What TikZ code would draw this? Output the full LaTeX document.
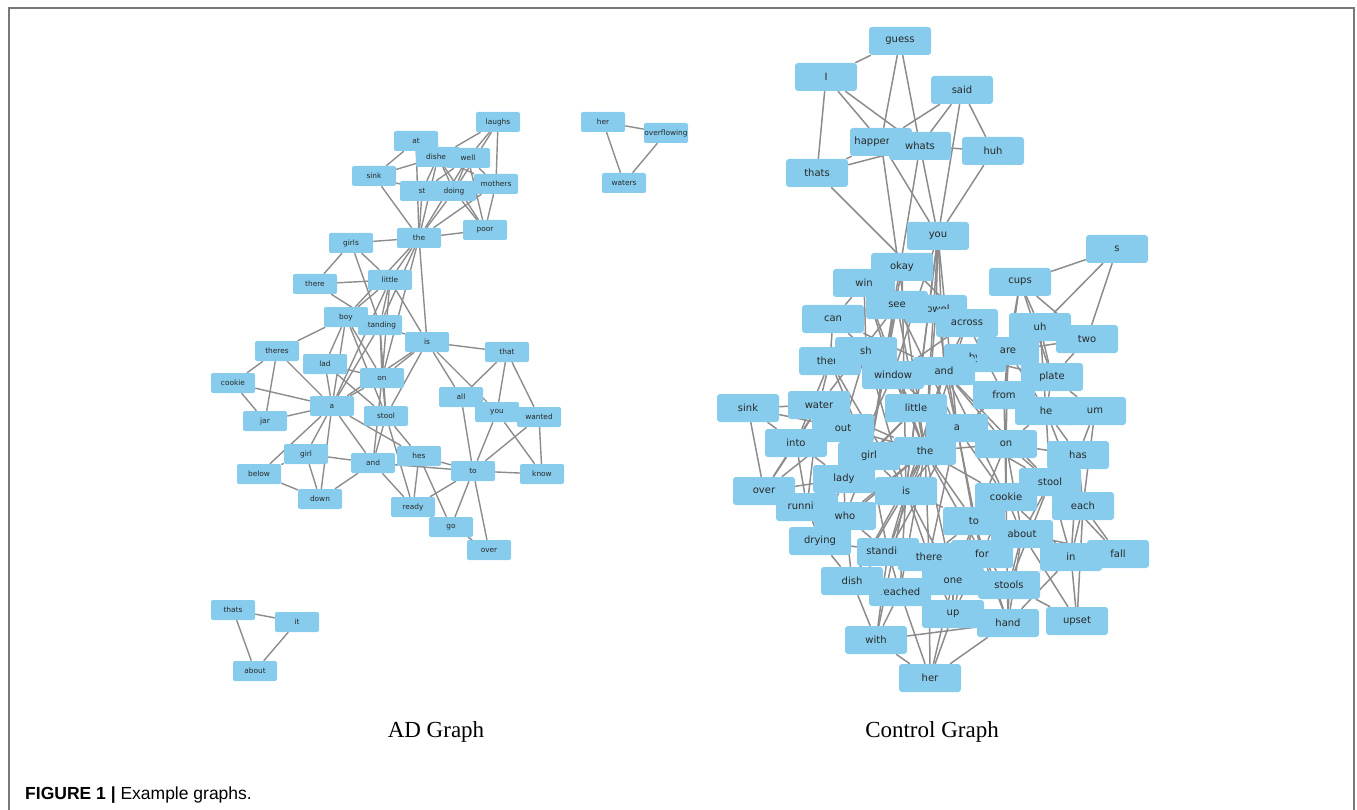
\documentclass[tikz,border=0pt]{standalone}
\usepackage{fontspec}
\setmainfont{Liberation Serif}
\newfontfamily\vera{DejaVu Sans}
\newfontfamily\helv{Liberation Sans}
\definecolor{nodeblue}{RGB}{135,204,236}
\definecolor{edgegray}{RGB}{140,140,140}
\definecolor{framegray}{RGB}{120,120,120}
\definecolor{labeltext}{RGB}{40,40,40}
\pgfdeclarelayer{background}
\pgfsetlayers{background,main}
\tikzset{
  adnode/.style={rectangle, rounded corners=2pt, fill=nodeblue, minimum width=44pt, minimum height=20pt, inner sep=0pt, text=labeltext, font=\vera\fontsize{7.4}{8}\selectfont},
  ctnode/.style={rectangle, rounded corners=3pt, fill=nodeblue, minimum width=62pt, minimum height=28pt, inner sep=0pt, text=labeltext, font=\vera\fontsize{10}{11}\selectfont},
  adedge/.style={draw=edgegray, line width=1.4pt},
  ctedge/.style={draw=edgegray, line width=1.5pt},
  graphlabel/.style={anchor=base, font=\fontsize{23}{26}\selectfont},
}
\begin{document}
\begin{tikzpicture}[x=1pt,y=-1pt]
\useasboundingbox (0,0) rectangle (1357,810);
\draw[framegray, line width=1.5pt] (9,812) -- (9,8) -- (1354,8) -- (1354,812);

% ---------------- AD graph nodes ----------------
\node[adnode] (alaughs) at (498,122) {laughs};
\node[adnode] (aat) at (416,141) {at};
\node[adnode] (adishe) at (438,157) {dishes};
\node[adnode] (awell) at (468,158) {well};
\node[adnode] (asink) at (374,176) {sink};
\node[adnode] (aloing) at (454,191) {doing};
\node[adnode] (ast) at (422,191) {st};
\node[adnode] (amothers) at (496,184) {mothers};
\node[adnode] (apoor) at (485,230) {poor};
\node[adnode] (athe) at (419,238) {the};
\node[adnode] (agirls) at (351,243) {girls};
\node[adnode] (athere) at (315,284) {there};
\node[adnode] (alittle) at (390,280) {little};
\node[adnode] (atanding) at (380,325) {standing};
\node[adnode] (aboy) at (346,317) {boy};
\node[adnode] (ais) at (427,342) {is};
\node[adnode] (atheres) at (277,351) {theres};
\node[adnode] (alad) at (325,364) {lad};
\node[adnode] (athat) at (507,352) {that};
\node[adnode] (acookie) at (233,383) {cookie};
\node[adnode] (aon) at (382,378) {on};
\node[adnode] (aall) at (461,397) {all};
\node[adnode] (ayou) at (497,412) {you};
\node[adnode] (awanted) at (539,417) {wanted};
\node[adnode] (aa) at (332,406) {a};
\node[adnode] (ajar) at (265,421) {jar};
\node[adnode] (astool) at (386,416) {stool};
\node[adnode] (agirl) at (306,454) {girl};
\node[adnode] (ahes) at (419,456) {hes};
\node[adnode] (aand) at (373,463) {and};
\node[adnode] (ato) at (473,471) {to};
\node[adnode] (abelow) at (259,474) {below};
\node[adnode] (aknow) at (542,474) {know};
\node[adnode] (adown) at (320,499) {down};
\node[adnode] (aready) at (413,507) {ready};
\node[adnode] (ago) at (451,527) {go};
\node[adnode] (aover) at (489,550) {over};
\node[adnode] (aher) at (603,122) {her};
\node[adnode] (aoverflowing) at (666,133) {overflowing};
\node[adnode] (awaters) at (624,183) {waters};
\node[adnode] (athats) at (233,610) {thats};
\node[adnode] (ait) at (297,622) {it};
\node[adnode] (aabout) at (255,671) {about};

% ---------------- Control graph nodes ----------------
\node[ctnode] (cguess) at (900,41) {guess};
\node[ctnode] (cI) at (826,77) {I};
\node[ctnode] (csaid) at (962,90) {said};
\node[ctnode] (chappen) at (881,142) {happening};
\node[ctnode] (cwhats) at (920,146) {whats};
\node[ctnode] (chuh) at (993,151) {huh};
\node[ctnode] (cthats) at (817,173) {thats};
\node[ctnode] (cyou) at (938,236) {you};
\node[ctnode] (cs) at (1117,249) {s};
\node[ctnode] (ccups) at (1020,282) {cups};
\node[ctnode] (cwin) at (864,283) {win};
\node[ctnode] (cokay) at (902,267) {okay};
\node[ctnode] (ctow) at (936,309) {towel};
\node[ctnode] (csee) at (897,305) {see};
\node[ctnode] (ccan) at (833,319) {can};
\node[ctnode] (cacross) at (967,323) {across};
\node[ctnode] (cuh) at (1040,327) {uh};
\node[ctnode] (ctwo) at (1087,339) {two};
\node[ctnode] (cther) at (830,361) {there};
\node[ctnode] (csh) at (866,351) {sh};
\node[ctnode] (cby) at (975,358) {by};
\node[ctnode] (cand) at (944,371) {and};
\node[ctnode] (care) at (1008,351) {are};
\node[ctnode] (cwindow) at (893,375) {window};
\node[ctnode] (cplate) at (1052,377) {plate};
\node[ctnode] (cfrom) at (1004,395) {from};
\node[ctnode] (che) at (1046,411) {he};
\node[ctnode] (cum) at (1095,411) {um};
\node[ctnode] (csink) at (748,408) {sink};
\node[ctnode] (cwater) at (819,405) {water};
\node[ctnode] (cinto) at (796,443) {into};
\node[ctnode] (cout) at (843,428) {out};
\node[ctnode] (clittle) at (916,408) {little};
\node[ctnode] (ca) at (957,428) {a};
\node[ctnode] (con) at (1006,444) {on};
\node[ctnode] (cgirl) at (869,456) {girl};
\node[ctnode] (cthe) at (925,451) {the};
\node[ctnode] (chas) at (1078,455) {has};
\node[ctnode] (clady) at (844,479) {lady};
\node[ctnode] (cstool) at (1050,482) {stool};
\node[ctnode] (cover) at (764,491) {over};
\node[ctnode] (cis) at (906,491) {is};
\node[ctnode] (cto) at (974,521) {to};
\node[ctnode] (ccookie) at (1006,497) {cookie};
\node[ctnode] (ceach) at (1083,506) {each};
\node[ctnode] (crunni) at (807,507) {running};
\node[ctnode] (cwho) at (845,516) {who};
\node[ctnode] (cdrying) at (820,541) {drying};
\node[ctnode] (cabout) at (1022,534) {about};
\node[ctnode] (cstandi) at (888,552) {standing};
\node[ctnode] (cthere) at (929,557) {there};
\node[ctnode] (cfor) at (982,554) {for};
\node[ctnode] (cin) at (1071,557) {in};
\node[ctnode] (cfall) at (1118,554) {fall};
\node[ctnode] (creached) at (900,592) {reached};
\node[ctnode] (cdish) at (852,581) {dish};
\node[ctnode] (cone) at (953,581) {one};
\node[ctnode] (cstools) at (1009,585) {stools};
\node[ctnode] (cup) at (953,614) {up};
\node[ctnode] (chand) at (1008,623) {hand};
\node[ctnode] (cupset) at (1077,621) {upset};
\node[ctnode] (cwith) at (876,640) {with};
\node[ctnode] (cher) at (930,678) {her};

% ---------------- edges ----------------
\begin{pgfonlayer}{background}
\foreach \p/\q in {alaughs/adishe, alaughs/aloing, alaughs/amothers, alaughs/awell,
  aat/asink, aat/athe, aat/adishe, asink/adishe, asink/athe, asink/ast,
  adishe/athe, adishe/aloing, adishe/amothers, adishe/apoor, adishe/ast,
  awell/athe, awell/aloing, awell/apoor, awell/ast, awell/amothers,
  ast/athe, aloing/athe, amothers/athe, amothers/apoor, aloing/apoor,
  athe/apoor, athe/agirls, athe/alittle, athe/ais, athe/aboy, athe/atanding, athe/aon,
  agirls/athere, agirls/alittle, agirls/atanding, athere/alittle, athere/atanding,
  alittle/aboy, alittle/atanding, alittle/aon, alittle/ais, alittle/aa,
  aboy/atheres, aboy/aa, aboy/alad, aboy/aon, aboy/astool,
  atanding/aa, atanding/aon, atanding/ais, atanding/astool,
  ais/aon, ais/aa, ais/athat, ais/aall, ais/ayou, ais/astool,
  athat/aall, athat/ayou, athat/awanted,
  atheres/acookie, atheres/ajar, atheres/aa, alad/aa, alad/astool, alad/aon,
  acookie/aa, acookie/ajar, ajar/aa, aon/aa, aon/astool, aon/aand,
  astool/aand, astool/aready, astool/ahes,
  aa/agirl, aa/abelow, aa/adown, aa/aand, aa/ahes,
  aall/ato, ayou/ato, ayou/aknow, awanted/ato, awanted/aknow,
  agirl/abelow, agirl/adown, agirl/aand, abelow/adown,
  aand/adown, aand/ato, aand/aready, ahes/aready, ahes/ago, ahes/ato,
  ato/aready, ato/ago, ato/aover, ato/aknow, ago/aover,
  aher/aoverflowing, aher/awaters, aoverflowing/awaters,
  athats/ait, athats/aabout, ait/aabout}
  \draw[adedge] (\p) -- (\q);
\foreach \p/\q in {cguess/cI, cguess/chappen, cguess/cwhats,
  cI/cthats, cI/chappen, cI/cwhats,
  csaid/chappen, csaid/cwhats, csaid/chuh, csaid/cyou,
  cthats/chappen, cthats/cwhats, cthats/cacross,
  chappen/cyou, chappen/cthe, cwhats/cyou, cwhats/cgirl, cwhats/chuh, chuh/cyou,
  cyou/cand, cyou/cwindow, cyou/cthe, cyou/ca, cyou/clittle, cyou/cis, cyou/ctow,
  cs/ccups, cs/cuh, cs/ctwo,
  ccups/cuh, ccups/ctwo, ccups/care, ccups/cplate, ccups/cfrom,
  cuh/ctwo, cuh/cplate, cuh/che, ctwo/cplate, ctwo/care,
  cplate/cum, cplate/che, cplate/care,
  cwin/ccan, cwin/csh, cwin/cthe, cwin/cwindow, cwin/cokay,
  cokay/cis, cokay/cgirl, csee/cthe, csee/ca, csee/cgirl, csee/cwater,
  ccan/cther, ccan/cwindow, ccan/cand,
  ctow/cacross, ctow/ca, ctow/cthe,
  cacross/cand, cacross/cwindow, cacross/cfrom, cacross/cthe,
  csh/cwindow, csh/cout, csh/clittle, csh/cis,
  cther/cwater, cther/cinto, cther/cis, cther/cgirl,
  cwindow/cand, cwindow/clittle, cwindow/ca, cwindow/cthe, cwindow/clady,
  cand/ca, cand/cthe, cand/cfrom, cand/con, cand/cis, cand/ccookie, cand/cstool,
  cby/care, cby/cplate, care/cfrom, care/con, care/che,
  cfrom/ca, cfrom/con, cfrom/che, cfrom/ccookie,
  che/cum, che/chas, che/cstool, che/con, che/ceach, cum/chas, cum/ceach,
  csink/cwater, csink/cover, csink/cout, csink/cinto,
  cwater/cout, cwater/cinto, cwater/cover, cwater/cthe, cwater/crunni,
  clittle/cgirl, clittle/cthe, clittle/ca, clittle/cis, clittle/clady,
  ca/cthe, ca/con, ca/cis, ca/ccookie, ca/cstool, ca/cto, ca/cthere, ca/cstandi, ca/cfor,
  cout/cinto, cout/cgirl, cout/cthe, cout/clady, cout/cover,
  cinto/cover, cinto/crunni, cinto/clady,
  con/cthe, con/ccookie, con/cstool, con/chas, con/cto, con/cabout,
  cthe/cgirl, cthe/cis, cthe/ccookie, cthe/cto, cthe/cstandi, cthe/cthere, cthe/cdish,
  cthe/cone, cthe/cfor, cthe/cwho, cthe/cdrying, cthe/creached,
  cgirl/clady, cgirl/cis, cgirl/cwho, cgirl/cstandi,
  chas/cstool, chas/ceach, chas/cin,
  clady/cwho, clady/crunni, clady/cover, clady/cis, clady/cdrying,
  cstool/ccookie, cstool/ceach, cstool/cin, cstool/cfall, cstool/cabout, cstool/cstools,
  cover/crunni, cis/cwho, cis/cstandi, cis/cthere, cis/cdish, cis/cto, cis/cone, cis/cwith, cis/creached,
  ccookie/cto, ccookie/cabout, ccookie/cfor, ccookie/cin, ccookie/chand,
  ceach/cin, ceach/cfall, ceach/cupset,
  crunni/cwho, crunni/cdrying, cwho/cdrying, cwho/cstandi, cwho/cdish,
  cto/cabout, cto/cfor, cto/cone, cto/cup, cto/chand, cto/cthere,
  cabout/cin, cabout/cstools, cabout/chand, cabout/cfall, cabout/cupset,
  cdrying/cdish, cdrying/cstandi,
  cstandi/cthere, cstandi/cdish, cstandi/creached, cstandi/cwith,
  cthere/cone, cthere/cfor, cthere/cher, cthere/cup,
  cfor/cone, cfor/cstools, cfor/chand, cfor/cup,
  cin/cfall, cin/cstools, cin/cupset, cin/chand,
  cdish/creached, cdish/cwith, creached/cwith, creached/cher, creached/cup,
  cone/cup, cone/cstools, cone/cher, cstools/chand, cstools/cupset,
  cup/cher, cup/chand, chand/cwith, chand/cher, cwith/cher}
  \draw[ctedge] (\p) -- (\q);
\end{pgfonlayer}

% ---------------- labels ----------------
\node[graphlabel] (adlabel) at (436,737) {AD Graph};
\node[graphlabel] (ctlabel) at (932,737) {Control Graph};
\node[anchor=base west, inner sep=0pt, font=\helv\fontsize{17.5}{20}\selectfont] (figcap) at (25,799) {\textbf{FIGURE 1 |} Example graphs.};
\end{tikzpicture}
\end{document}
